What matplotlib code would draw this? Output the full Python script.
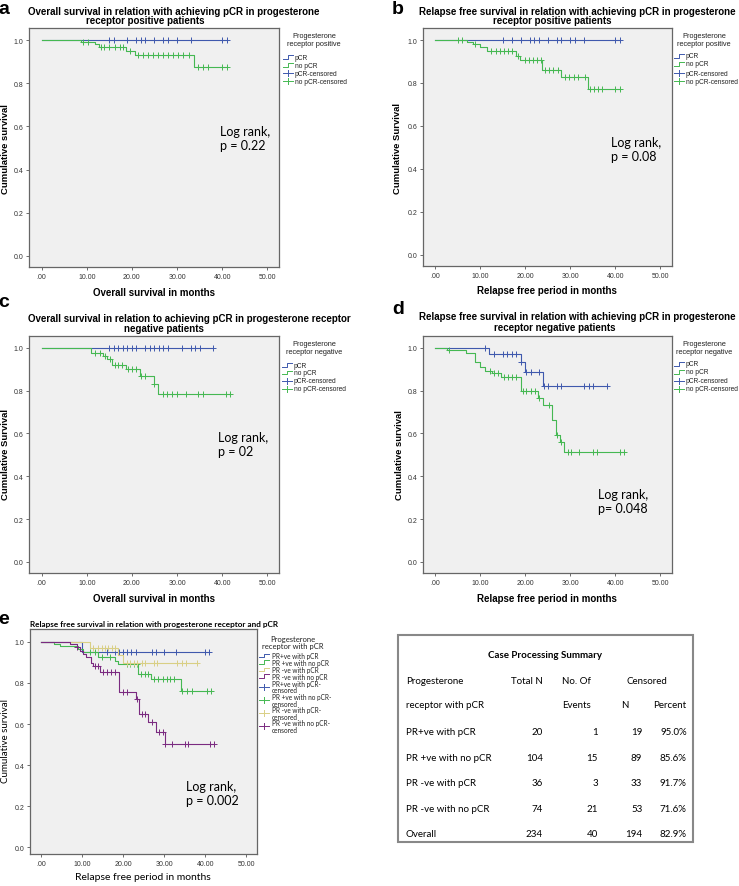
import numpy as np
import matplotlib
matplotlib.use("Agg")
import matplotlib.pyplot as plt
from matplotlib.lines import Line2D
from matplotlib.patches import Rectangle

W, H = 739, 887

BLUE = "#3f59ad"
GREEN = "#45b852"
TAN = "#d9cf85"
PURPLE = "#7a2a80"

# ---------------- data ----------------
# a: overall survival, PR positive
a_pcr_ev, a_pcr_sv = [], []
a_pcr_cens = [15, 16, 19, 21, 22, 23, 25, 27, 28, 30, 33, 40, 41]
a_no_ev = [8.8, 11.8, 12.8, 18.7, 20.6, 33.8]
a_no_sv = [0.990, 0.980, 0.969, 0.949, 0.931, 0.875]
a_no_cens = [9.1, 10.2, 13.2, 13.9, 15, 16.2, 17.3, 18, 19.5, 21.3, 22.4, 23.5,
             24.6, 25.7, 26.8, 27.9, 29, 30.2, 31.3, 32.7, 34.6, 35.7, 36.8, 40, 41]

# b: relapse free survival, PR positive
b_pcr_ev, b_pcr_sv = [], []
b_pcr_cens = [15, 17, 19, 21, 22, 23, 25, 27, 28, 30, 31, 33, 40, 41]
b_no_ev = [7, 8.4, 10, 11.5, 18, 18.8, 23.8, 27.9, 34]
b_no_sv = [0.990, 0.981, 0.969, 0.948, 0.925, 0.905, 0.860, 0.830, 0.770]
b_no_cens = [5, 6, 8.9, 12.3, 13.4, 14.3, 15.3, 16.2, 17.1, 18.3, 19.9, 20.8, 21.7,
             22.6, 23.6, 24.3, 25.2, 26.2, 27.2, 28.8, 29.8, 30.8, 31.8, 33.2,
             34.4, 35.2, 36.1, 37.1, 40, 41]

# c: overall survival, PR negative
c_pcr_ev, c_pcr_sv = [], []
c_pcr_cens = [15, 16, 17, 18, 19, 20, 21, 23, 24, 25, 26, 27, 28, 31, 33, 34, 35, 38]
c_no_ev = [10.9, 13.6, 14.5, 15.5, 18.8, 21.7, 24.8, 25.8]
c_no_sv = [0.973, 0.959, 0.945, 0.921, 0.900, 0.866, 0.830, 0.786]
c_no_cens = [11.9, 12.9, 14.0, 15.1, 16.2, 16.9, 17.9, 19.2, 20.1, 21.0, 22.1, 23.0,
             24.9, 26.8, 27.8, 28.8, 29.9, 31.9, 34.6, 35.8, 40.9, 41.7]

# d: relapse free survival, PR negative
d_pcr_ev = [11.9, 19.0, 19.9, 24.0]
d_pcr_sv = [0.971, 0.932, 0.888, 0.822]
d_pcr_cens = [11, 13, 15, 16, 17, 18, 19.1, 20.2, 21.2, 23.1, 24.2, 25.1, 27,
              27.9, 33.1, 34.1, 35, 38.1]
d_no_ev = [2.5, 6.8, 8.9, 9.9, 11.0, 12.6, 14.7, 19.0, 22.8, 24.0, 26.0, 26.8, 27.7, 28.6]
d_no_sv = [0.987, 0.975, 0.932, 0.908, 0.893, 0.880, 0.864, 0.796, 0.764, 0.734,
           0.662, 0.592, 0.558, 0.511]
d_no_cens = [3, 12.1, 13, 14, 15.3, 16.2, 17.1, 18, 19.4, 20.2, 21.2, 22.1, 23,
             25.3, 27, 27.9, 29.4, 30.1, 32, 35, 35.9, 41.1, 42]

# e: relapse free survival by PR status and pCR
e1_ev, e1_sv = [9.8], [0.950]
e1_cens = [16, 18, 19, 20, 21, 22, 23, 27, 28, 30, 33, 40, 41]
e2_ev = [3.0, 4.5, 9.0, 10.2, 13.9, 18.0, 18.8, 23.7, 26.7, 34.1]
e2_sv = [0.990, 0.981, 0.964, 0.948, 0.927, 0.908, 0.891, 0.843, 0.819, 0.759]
e2_cens = [11.8, 13.1, 14.7, 16.7, 20.8, 21.6, 22.6, 23.4, 24.3, 25.3, 26.1, 27.4,
           28.6, 29.7, 30.6, 31.4, 32.4, 34.4, 35.5, 36.8, 40.4, 41.4]
e3_ev = [11.8, 18.8, 20.0]
e3_sv = [0.972, 0.937, 0.897]
e3_cens = [12.7, 13.9, 14.7, 15.5, 16.3, 17.2, 18.0, 20.8, 21.6, 22.6, 23.4, 24.5,
           25.3, 27.4, 28.2, 33.1, 34.3, 35.3, 38.0]
e4_ev = [6.9, 8.6, 9.4, 10.2, 11.0, 12.0, 12.5, 14.3, 18.9, 23.1, 23.9, 26.1, 27.9, 30.1]
e4_sv = [0.987, 0.974, 0.956, 0.940, 0.924, 0.899, 0.883, 0.851, 0.754, 0.721,
         0.648, 0.608, 0.559, 0.502]
e4_cens = [8.8, 13.1, 13.9, 15.1, 15.9, 16.9, 18.0, 20.0, 21.0, 23.3, 24.5, 25.3,
           26.9, 28.8, 29.7, 30.3, 31.9, 35.1, 35.9, 41.3, 42.1]

# case processing summary
tab_groups = ["PR+ve with pCR", "PR +ve with no pCR", "PR -ve with pCR",
              "PR -ve with no pCR", "Overall"]
tab_total = [20, 104, 36, 74, 234]
tab_events = [1, 15, 3, 21, 40]
tab_cens_n = [19, 89, 33, 53, 194]
tab_cens_pct = ["95.0%", "85.6%", "91.7%", "71.6%", "82.9%"]

xticks = [0, 10, 20, 30, 40, 50]
xlabels = [".00", "10.00", "20.00", "30.00", "40.00", "50.00"]
yticks = [0, 0.2, 0.4, 0.6, 0.8, 1.0]
ylabels = ["0.0", "0.2", "0.4", "0.6", "0.8", "1.0"]

SANS = "Liberation Sans"
CAL = "Lato"

fig = plt.figure(figsize=(W / 100, H / 100), dpi=100)
fig.patch.set_facecolor("white")


def fx(x):
    return x / W


def fy(y):
    return 1 - y / H


def make_ax(l, t, r, b, ylim):
    ax = fig.add_axes([fx(l), fy(b), (r - l) / W, (b - t) / H])
    ax.set_facecolor("#f0f0f0")
    ax.set_xlim(-2.8, 52.6)
    ax.set_ylim(*ylim)
    ax.set_xticks(xticks, xlabels)
    ax.set_yticks(yticks, ylabels)
    ax.tick_params(length=2, width=0.6, color="#555555", labelsize=5,
                   labelcolor="#333333", pad=2)
    for lab in ax.get_xticklabels() + ax.get_yticklabels():
        lab.set_family(SANS)
    for sp in ax.spines.values():
        sp.set_color("#666666")
        sp.set_linewidth(0.9)
    return ax


def km(ax, ev, sv, cens, color):
    t = [0] + list(ev)
    s = [1.0] + list(sv)
    end = max(list(cens) + t)
    ax.step(t + [end], s + [s[-1]], where="post", color=color, lw=0.8)
    idx = np.searchsorted(t, cens, side="right") - 1
    ax.plot(cens, np.array(s)[idx], ls="none", marker="+", ms=5, mew=0.7,
            color=color)


def fline(xs, ys, **kw):
    fig.add_artist(Line2D([fx(x) for x in xs], [fy(y) for y in ys],
                          transform=fig.transFigure, **kw))


def handle(kind, color, x0, y):
    if kind == "line":
        fline([x0, x0 + 5, x0 + 5, x0 + 10], [y + 1.5, y + 1.5, y - 2, y - 2],
              color=color, lw=0.7)
    else:
        fline([x0, x0 + 10], [y, y], color=color, lw=0.7)
        fline([x0 + 5, x0 + 5], [y - 3, y + 3], color=color, lw=0.7)


def title2(l1, x1, y1, l2, x2, y2, size=7):
    fig.text(fx(x1), fy(y1), l1, ha="center", va="center", fontsize=size,
             fontweight="bold", family=SANS)
    fig.text(fx(x2), fy(y2), l2, ha="center", va="center", fontsize=size,
             fontweight="bold", family=SANS)


def ylab(x, y, s, family=SANS, weight="bold", size=6.8):
    fig.text(fx(x), fy(y), s, rotation=90, ha="center", va="center",
             fontsize=size, fontweight=weight, family=family)


def logrank(x, y, p):
    fig.text(fx(x), fy(y), "Log rank,", ha="left", va="center", fontsize=9,
             family=CAL)
    fig.text(fx(x), fy(y + 14), p, ha="left", va="center", fontsize=9,
             family=CAL)


def letter(x, y, s):
    fig.text(fx(x), fy(y), s, ha="center", va="center", fontsize=14,
             fontweight="bold", family=SANS)


def std_legend(x0, tx, ty, ys, label):
    fig.text(fx(tx), fy(ty), "Progesterone", ha="center", va="center",
             fontsize=5.3, family=SANS, color="#222222")
    fig.text(fx(tx), fy(ty + 8), label, ha="center", va="center",
             fontsize=5.3, family=SANS, color="#222222")
    rows = [("line", BLUE, ys[0], "pCR"), ("line", GREEN, ys[1], "no pCR"),
            ("cens", BLUE, ys[2], "pCR-censored"),
            ("cens", GREEN, ys[3], "no pCR-censored")]
    for kind, color, y, text in rows:
        handle(kind, color, x0, y)
        fig.text(fx(x0 + 12), fy(y), text, ha="left", va="center",
                 fontsize=4.8, family=SANS, color="#222222")


YL = (-0.052, 1.056)

# ---- panel a ----
ax = make_ax(29, 29, 279, 268, YL)
km(ax, a_pcr_ev, a_pcr_sv, a_pcr_cens, BLUE)
km(ax, a_no_ev, a_no_sv, a_no_cens, GREEN)
ax.set_xlabel("Overall survival in months", fontsize=7, fontweight="bold",
              family=SANS, labelpad=5)
ylab(5.5, 149, "Cumulative survival")
title2("Overall survival in relation with achieving pCR in progesterone", 174, 11.7,
       "receptor positive patients", 145, 20.7)
logrank(220, 131.7, "p = 0.22")
letter(4, 10, "a")
std_legend(283, 314, 37, [58, 66, 74, 82], "receptor positive")

# ---- panel b ----
ax = make_ax(422.7, 29, 672, 267, YL)
km(ax, b_pcr_ev, b_pcr_sv, b_pcr_cens, BLUE)
km(ax, b_no_ev, b_no_sv, b_no_cens, GREEN)
ax.set_xlabel("Relapse free period in months", fontsize=7, fontweight="bold",
              family=SANS, labelpad=5)
ylab(398, 148, "Cumulative Survival")
title2("Relapse free survival in relation with achieving pCR in progesterone", 577, 11.7,
       "receptor positive patients", 552, 20.7)
logrank(611, 143.3, "p = 0.08")
letter(398, 9, "b")
std_legend(674, 704, 37, [57, 65, 74, 82], "receptor positive")

# ---- panel c ----
ax = make_ax(29, 336.7, 279, 574, YL)
km(ax, c_pcr_ev, c_pcr_sv, c_pcr_cens, BLUE)
km(ax, c_no_ev, c_no_sv, c_no_cens, GREEN)
ax.set_xlabel("Overall survival in months", fontsize=7, fontweight="bold",
              family=SANS, labelpad=5)
ylab(5.5, 455, "Cumulative Survival")
title2("Overall survival in relation to achieving pCR in progesterone receptor", 189, 319.3,
       "negative patients", 164, 329)
logrank(218, 438.3, "p = 02")
letter(4, 303, "c")
std_legend(282, 314, 345, [366, 373.5, 382, 390], "receptor negative")

# ---- panel d ----
ax = make_ax(422.7, 336.7, 672, 574, YL)
km(ax, d_pcr_ev, d_pcr_sv, d_pcr_cens, BLUE)
km(ax, d_no_ev, d_no_sv, d_no_cens, GREEN)
ax.set_xlabel("Relapse free period in months", fontsize=7, fontweight="bold",
              family=SANS, labelpad=5)
ylab(399, 455, "Cumulative survival")
title2("Relapse free survival in relation with achieving pCR in progesterone", 577, 317.3,
       "receptor negative patients", 555, 328.3)
logrank(597.7, 495, "p= 0.048")
letter(398, 309, "d")
std_legend(674, 704, 345, [365, 373, 382, 390], "receptor negative")

# ---- panel e ----
ax = make_ax(30, 630, 256.7, 855, (-0.032, 1.062))
km(ax, e1_ev, e1_sv, e1_cens, BLUE)
km(ax, e2_ev, e2_sv, e2_cens, GREEN)
km(ax, e3_ev, e3_sv, e3_cens, TAN)
km(ax, e4_ev, e4_sv, e4_cens, PURPLE)
ax.set_xlabel("Relapse free period in months", fontsize=7.5, family=CAL, labelpad=4)
ylab(6, 741, "Cumulative survival", family=CAL, weight="normal", size=7)
fig.text(fx(154), fy(625), "Relapse free survival in relation with progesterone receptor and pCR",
         ha="center", va="center", fontsize=5.9, fontweight="bold", family=CAL)
logrank(185.7, 786.7, "p = 0.002")
letter(4, 620, "e")
fig.text(fx(293), fy(640), "Progesterone", ha="center", va="center",
         fontsize=5.5, family=CAL, color="#222222")
fig.text(fx(293), fy(647), "receptor with pCR", ha="center", va="center",
         fontsize=5.5, family=CAL, color="#222222")
e_rows = [("line", BLUE, 656.7, "PR+ve with pCR"),
          ("line", GREEN, 663.3, "PR +ve with no pCR"),
          ("line", TAN, 670.7, "PR -ve with pCR"),
          ("line", PURPLE, 677.3, "PR -ve with no pCR"),
          ("cens", BLUE, 687.5, "PR+ve with pCR-\ncensored"),
          ("cens", GREEN, 701, "PR +ve with no pCR-\ncensored"),
          ("cens", TAN, 714, "PR -ve with pCR-\ncensored"),
          ("cens", PURPLE, 727, "PR -ve with no pCR-\ncensored")]
for kind, color, y, text in e_rows:
    handle(kind, color, 259, y)
    fig.text(fx(272), fy(y), text, ha="left", va="center", fontsize=4.7,
             family=CAL, color="#222222", linespacing=0.85)

# ---- table ----
fig.add_artist(Rectangle((fx(398), fy(843)), (693 - 398) / W, (843 - 636) / H,
                         transform=fig.transFigure, fill=False,
                         edgecolor="#888888", lw=1.5))
ts = 7
LX = 406
fig.text(fx(545), fy(655.7), "Case Processing Summary", ha="center", va="center",
         fontsize=ts, fontweight="bold", family=CAL)
fig.text(fx(LX), fy(681), "Progesterone", ha="left", va="center", fontsize=ts, family=CAL)
fig.text(fx(LX), fy(705.7), "receptor with pCR", ha="left", va="center", fontsize=ts, family=CAL)
fig.text(fx(542.7), fy(681), "Total N", ha="right", va="center", fontsize=ts, family=CAL)
fig.text(fx(561.7), fy(681), "No. Of", ha="left", va="center", fontsize=ts, family=CAL)
fig.text(fx(561.7), fy(705.7), "Events", ha="left", va="center", fontsize=ts, family=CAL)
fig.text(fx(646.7), fy(681), "Censored", ha="center", va="center", fontsize=ts, family=CAL)
fig.text(fx(625), fy(705.7), "N", ha="center", va="center", fontsize=ts, family=CAL)
fig.text(fx(669.3), fy(705.7), "Percent", ha="center", va="center", fontsize=ts, family=CAL)
row_y = [732.7, 758.3, 784, 809.7, 835]
for i, y in enumerate(row_y):
    fig.text(fx(LX), fy(y), tab_groups[i], ha="left", va="center", fontsize=ts, family=CAL)
    fig.text(fx(542.7), fy(y), str(tab_total[i]), ha="right", va="center", fontsize=ts, family=CAL)
    fig.text(fx(597.7), fy(y), str(tab_events[i]), ha="right", va="center", fontsize=ts, family=CAL)
    fig.text(fx(642.3), fy(y), str(tab_cens_n[i]), ha="right", va="center", fontsize=ts, family=CAL)
    fig.text(fx(686.7), fy(y), tab_cens_pct[i], ha="right", va="center", fontsize=ts, family=CAL)

fig.savefig("out.png", dpi=100)
